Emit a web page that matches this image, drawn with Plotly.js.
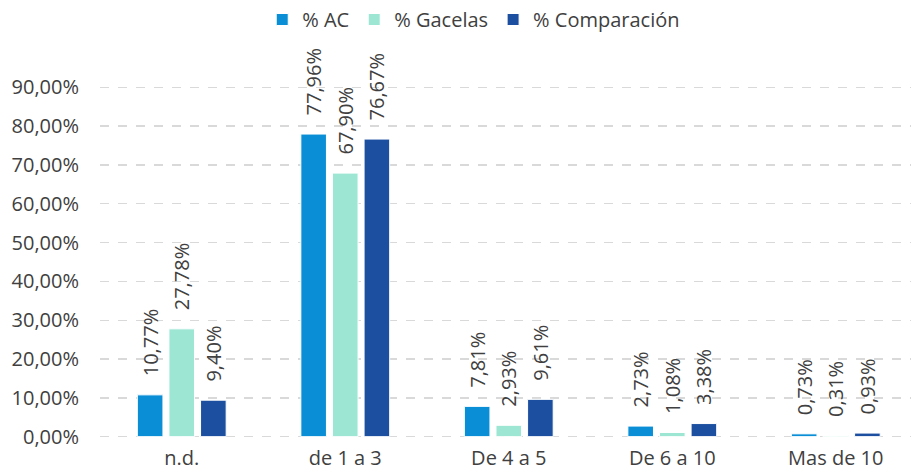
<!DOCTYPE html>
<html>
<head>
<meta charset="utf-8">
<script src="https://cdn.plot.ly/plotly-3.0.1.min.js"></script>
<style>html,body{margin:0;padding:0;background:#fff;}#chart{width:911px;height:472px;}</style>
</head>
<body>
<div id="chart"></div>
<script>
const categories = ["n.d.", "de 1 a 3", "De 4 a 5", "De 6 a 10", "Mas de 10"];
const seriesNames = ["% AC", "% Gacelas", "% Comparación"];
const acValues = [0.1077, 0.7796, 0.0781, 0.0273, 0.0073];
const gacelasValues = [0.2778, 0.6790, 0.0293, 0.0108, 0.0031];
const comparacionValues = [0.0940, 0.7667, 0.0961, 0.0338, 0.0093];
const yTickValues = [0, 0.1, 0.2, 0.3, 0.4, 0.5, 0.6, 0.7, 0.8, 0.9];
const colors = ["#0A8ED6", "#9CE6D3", "#1C4FA0"];

const allValues = [acValues, gacelasValues, comparacionValues];
const fontFam = "'Open Sans', 'Noto Sans', sans-serif";
const txtColor = "#404040";
const traces = allValues.map((vals, i) => ({
  type: "bar",
  name: seriesNames[i],
  x: categories,
  y: vals,
  marker: {color: colors[i], line: {color: "#ffffff", width: 1}},
  texttemplate: "\u00a0\u00a0\u00a0%{y:.2%}",
  textposition: "outside",
  textangle: -90,
  constraintext: "none",
  cliponaxis: false,
  textfont: {family: fontFam, size: 20, color: txtColor},
  hoverinfo: "none"
}));

const layout = {
  width: 911, height: 472,
  margin: {l: 100, r: 0, t: 85, b: 33},
  separators: ",.",
  barmode: "group",
  bargap: 0.42,
  bargroupgap: 0.19,
  paper_bgcolor: "#ffffff",
  plot_bgcolor: "#ffffff",
  font: {family: fontFam, color: txtColor, size: 20},
  showlegend: true,
  legend: {
    orientation: "h", xref: "container", x: 0.52, xanchor: "center",
    yref: "container", y: 1.0, yanchor: "top",
    font: {family: fontFam, size: 20, color: txtColor},
    itemwidth: 30, traceorder: "normal"
  },
  xaxis: {
    range: [-0.5, 4.46],
    showgrid: false, showline: false, zeroline: false, ticks: "",
    ticklabelstandoff: 5,
    tickfont: {family: fontFam, size: 20, color: txtColor}
  },
  yaxis: {
    range: [-0.006, 0.906],
    tickvals: yTickValues,
    tickformat: ".2%",
    showgrid: true, gridcolor: "#d9d9d9", griddash: "dash", gridwidth: 1.3,
    zeroline: false, showline: false, ticks: "",
    ticklabelstandoff: 20,
    tickfont: {family: fontFam, size: 20, color: txtColor}
  }
};

Plotly.newPlot("chart", traces, layout, {staticPlot: true, displayModeBar: false});
</script>
</body>
</html>
